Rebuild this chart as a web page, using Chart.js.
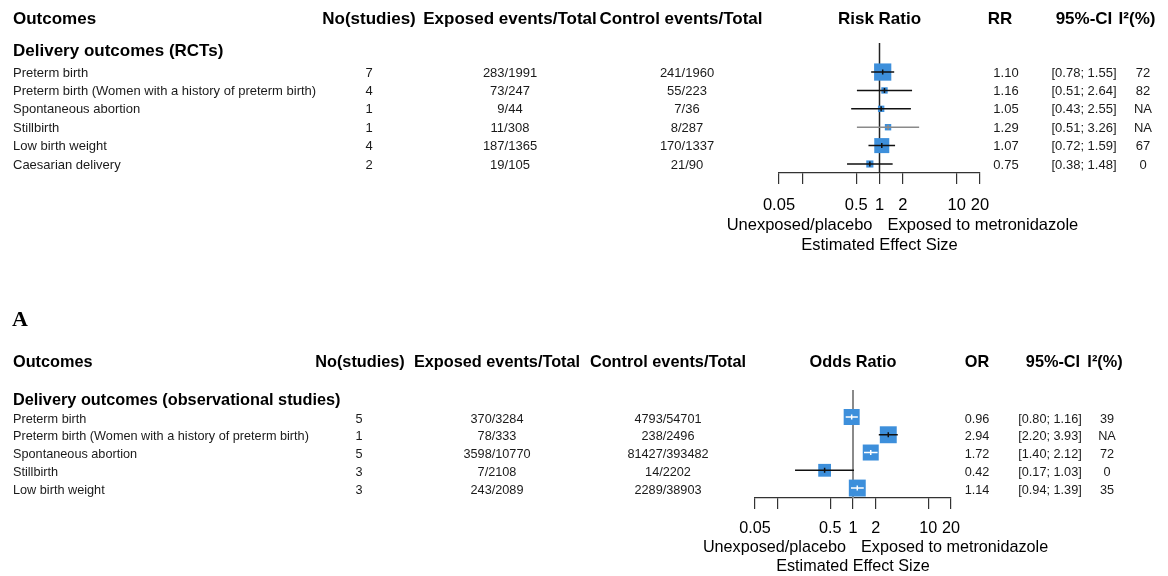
<!DOCTYPE html>
<html>
<head>
<meta charset="utf-8">
<script src="https://cdn.jsdelivr.net/npm/chart.js@4.4.0/dist/chart.umd.min.js"></script>
<style>
  body { margin: 0; background: #fff; width: 1168px; height: 576px; overflow: hidden; position: relative; }
  .panel { position: absolute; left: 0; width: 1168px; }
  #panelRct { top: 0; height: 290px; }
  #panelObs { top: 290px; height: 286px; }
</style>
</head>
<body>
<div class="panel" id="panelRct"><canvas id="graficaRct" width="1168" height="290"></canvas></div>
<div class="panel" id="panelObs"><canvas id="graficaObs" width="1168" height="286"></canvas></div>
<script>
// Datos: ensayos (RCTs)
const rctOutcomes = ['Preterm birth', 'Preterm birth (Women with a history of preterm birth)', 'Spontaneous abortion', 'Stillbirth', 'Low birth weight', 'Caesarian delivery'];
const rctStudies = [7, 4, 1, 1, 4, 2];
const rctExposed = ['283/1991', '73/247', '9/44', '11/308', '187/1365', '19/105'];
const rctControl = ['241/1960', '55/223', '7/36', '8/287', '170/1337', '21/90'];
const rctRR = [1.10, 1.16, 1.05, 1.29, 1.07, 0.75];
const rctLower = [0.78, 0.51, 0.43, 0.51, 0.72, 0.38];
const rctUpper = [1.55, 2.64, 2.55, 3.26, 1.59, 1.48];
const rctI2 = ['72', '82', 'NA', 'NA', '67', '0'];
const rctWeights = [29, 4, 4, 4, 22, 5];

// Datos: estudios observacionales
const obsOutcomes = ['Preterm birth', 'Preterm birth (Women with a history of preterm birth)', 'Spontaneous abortion', 'Stillbirth', 'Low birth weight'];
const obsStudies = [5, 1, 5, 3, 3];
const obsExposed = ['370/3284', '78/333', '3598/10770', '7/2108', '243/2089'];
const obsControl = ['4793/54701', '238/2496', '81427/393482', '14/2202', '2289/38903'];
const obsOR = [0.96, 2.94, 1.72, 0.42, 1.14];
const obsLower = [0.80, 2.20, 1.40, 0.17, 0.94];
const obsUpper = [1.16, 3.93, 2.12, 1.03, 1.39];
const obsI2 = ['39', 'NA', '72', '0', '35'];
const obsWeights = [25, 28, 25, 16, 28];

// Eje x (escala log)
const ejeTicks = [0.05, 0.1, 0.5, 1, 2, 10, 20];
const ejeEtiquetas = ['0.05', '', '0.5', '1', '2', '10', '20'];

const FUENTE = "'Liberation Sans', Arial, sans-serif";
const AZUL = '#3d8fdb';

const ladoCaja = w => 3.2 * Math.sqrt(w);

function texto(ctx, str, x, y, size, bold, align, color) {
  ctx.font = (bold ? 'bold ' : '') + size + 'px ' + FUENTE;
  ctx.textAlign = align || 'left';
  ctx.textBaseline = 'middle';
  ctx.fillStyle = color || '#000';
  ctx.fillText(str, x, y);
}

function crearPlugin(cfg) {
  return {
    id: 'forest_' + cfg.id,
    beforeDatasetsDraw(chart) {
      // linea vertical en 1
      const { ctx, chartArea, scales: { x } } = chart;
      const x1 = x.getPixelForValue(1);
      ctx.save();
      ctx.strokeStyle = cfg.refColor;
      ctx.lineWidth = cfg.refWidth;
      ctx.beginPath();
      ctx.moveTo(x1, chartArea.top);
      ctx.lineTo(x1, chartArea.bottom);
      ctx.stroke();
      ctx.restore();
    },
    afterDatasetsDraw(chart) {
      // intervalos de confianza (blancos si caben dentro de la caja)
      const { ctx, scales: { x, y } } = chart;
      ctx.save();
      ctx.lineWidth = 1.5;
      cfg.lower.forEach((lo, i) => {
        const py = y.getPixelForValue(i + 1);
        const a = x.getPixelForValue(lo);
        const b = x.getPixelForValue(cfg.upper[i]);
        const c = x.getPixelForValue(cfg.est[i]);
        const half = ladoCaja(cfg.weights[i]) / 2;
        const dentro = a >= c - half && b <= c + half;
        ctx.strokeStyle = dentro ? '#fff' : cfg.ciColors[i];
        ctx.beginPath();
        ctx.moveTo(a, py);
        ctx.lineTo(b, py);
        ctx.moveTo(c, py - 2.5);
        ctx.lineTo(c, py + 2.5);
        ctx.stroke();
      });
      ctx.restore();
    },
    afterDraw(chart) {
      const { ctx, scales: { x, y } } = chart;
      const col = cfg.cols;
      const h = cfg.headSize;
      ctx.save();
      if (cfg.letra) {
        ctx.font = 'bold 22px "Liberation Serif", serif';
        ctx.textAlign = 'left';
        ctx.textBaseline = 'middle';
        ctx.fillStyle = '#000';
        ctx.fillText(cfg.letra, 12, cfg.letraY);
      }
      // cabeceras
      texto(ctx, 'Outcomes', 13, cfg.headY, h, true);
      texto(ctx, 'No(studies)', col.nHead, cfg.headY, h, true, 'center');
      texto(ctx, 'Exposed events/Total', col.expHead, cfg.headY, h, true, 'center');
      texto(ctx, 'Control events/Total', col.ctrlHead, cfg.headY, h, true, 'center');
      texto(ctx, cfg.titulo, x.getPixelForValue(1), cfg.headY, h, true, 'center');
      texto(ctx, cfg.abrev, col.estHead, cfg.headY, h, true, 'center');
      texto(ctx, '95%-CI', col.ciHead, cfg.headY, h, true, 'center');
      texto(ctx, 'I\u00b2(%)', col.i2Head, cfg.headY, h, true, 'center');
      texto(ctx, cfg.subtitulo, 13, cfg.subY, h, true);

      // filas
      const s = cfg.rowSize;
      const c = '#1a1a1a';
      cfg.outcomes.forEach((o, i) => {
        const py = y.getPixelForValue(i + 1) + cfg.textShift;
        texto(ctx, o, 13, py, s, false, 'left', c);
        texto(ctx, String(cfg.studies[i]), col.n, py, s, false, 'center', c);
        texto(ctx, cfg.exposed[i], col.exp, py, s, false, 'center', c);
        texto(ctx, cfg.control[i], col.ctrl, py, s, false, 'center', c);
        texto(ctx, cfg.est[i].toFixed(2), col.est, py, s, false, 'center', c);
        texto(ctx, '[' + cfg.lower[i].toFixed(2) + '; ' + cfg.upper[i].toFixed(2) + ']', col.ci, py, s, false, 'center', c);
        texto(ctx, cfg.i2[i], col.i2, py, s, false, 'center', c);
      });

      // textos bajo el eje
      const x1 = x.getPixelForValue(1);
      const f = cfg.axisSize;
      texto(ctx, 'Unexposed/placebo', x1 - 7, cfg.lab1Y, f, false, 'right');
      texto(ctx, 'Exposed to metronidazole', x1 + 8, cfg.lab1Y, f, false, 'left');
      texto(ctx, 'Estimated Effect Size', x1, cfg.lab2Y, f, false, 'center');
      ctx.restore();
    }
  };
}

function crearForest(canvasId, cfg) {
  const ctx = document.getElementById(canvasId).getContext('2d');
  return new Chart(ctx, {
    type: 'scatter',
    data: {
      datasets: [{
        data: cfg.est.map((v, i) => ({ x: v, y: i + 1 })),
        pointStyle: 'rect',
        pointRadius: cfg.weights.map(w => ladoCaja(w) / Math.SQRT2),
        pointHoverRadius: cfg.weights.map(w => ladoCaja(w) / Math.SQRT2),
        pointBackgroundColor: AZUL,
        pointBorderWidth: 0,
        borderWidth: 0
      }]
    },
    options: {
      responsive: false,
      devicePixelRatio: 1,
      animation: false,
      events: [],
      layout: { padding: { left: cfg.padLeft, right: cfg.padRight, top: cfg.padTop, bottom: 0 } },
      plugins: { legend: { display: false }, tooltip: { enabled: false } },
      scales: {
        x: {
          type: 'logarithmic',
          min: 0.05,
          max: 20,
          afterBuildTicks: s => { s.ticks = ejeTicks.map(v => ({ value: v })); },
          afterFit: s => { s.height = cfg.axisHeight; },
          grid: { display: true, drawOnChartArea: false, drawTicks: true, tickLength: 11, color: '#333', lineWidth: 1.2 },
          border: { display: true, color: '#333', width: 1.2 },
          ticks: {
            autoSkip: false,
            maxRotation: 0,
            padding: cfg.tickPad,
            color: '#000',
            font: { family: FUENTE, size: cfg.axisSize },
            callback: (v, i) => ejeEtiquetas[i]
          }
        },
        y: {
          type: 'linear',
          reverse: true,
          min: cfg.yMin,
          max: cfg.yMax,
          display: false
        }
      }
    },
    plugins: [crearPlugin(cfg)]
  });
}

// Gráfica 1: RCTs
crearForest('graficaRct', {
  id: 'rct',
  outcomes: rctOutcomes, studies: rctStudies, exposed: rctExposed, control: rctControl,
  est: rctRR, lower: rctLower, upper: rctUpper, i2: rctI2, weights: rctWeights,
  ciColors: ['#111', '#111', '#111', '#8a8a8a', '#111', '#111'],
  refColor: '#222', refWidth: 1.5,
  titulo: 'Risk Ratio', abrev: 'RR', subtitulo: 'Delivery outcomes (RCTs)',
  padLeft: 779, padRight: 188, padTop: 43, axisHeight: 117,
  yMin: -0.58, yMax: 6.49,
  headY: 19, subY: 51, headSize: 17, rowSize: 13, textShift: 1, axisSize: 16.5, tickPad: 12,
  lab1Y: 225, lab2Y: 245,
  cols: { nHead: 369, n: 369, expHead: 510, exp: 510, ctrlHead: 681, ctrl: 687,
          estHead: 1000, est: 1006, ciHead: 1084, ci: 1084, i2Head: 1137, i2: 1143 }
});

// Gráfica 2: estudios observacionales
crearForest('graficaObs', {
  id: 'obs',
  outcomes: obsOutcomes, studies: obsStudies, exposed: obsExposed, control: obsControl,
  est: obsOR, lower: obsLower, upper: obsUpper, i2: obsI2, weights: obsWeights,
  ciColors: ['#111', '#111', '#111', '#111', '#111'],
  refColor: '#8a8a8a', refWidth: 2,
  titulo: 'Odds Ratio', abrev: 'OR', subtitulo: 'Delivery outcomes (observational studies)',
  letra: 'A', letraY: 30,
  padLeft: 755, padRight: 217, padTop: 100, axisHeight: 78,
  yMin: -0.52, yMax: 5.56,
  headY: 73, subY: 111, headSize: 16.3, rowSize: 12.7, textShift: 2, axisSize: 16.2, tickPad: 10,
  lab1Y: 258, lab2Y: 277,
  cols: { nHead: 360, n: 359, expHead: 497, exp: 497, ctrlHead: 668, ctrl: 668,
          estHead: 977, est: 977, ciHead: 1053, ci: 1050, i2Head: 1105, i2: 1107 }
});
</script>
</body>
</html>
